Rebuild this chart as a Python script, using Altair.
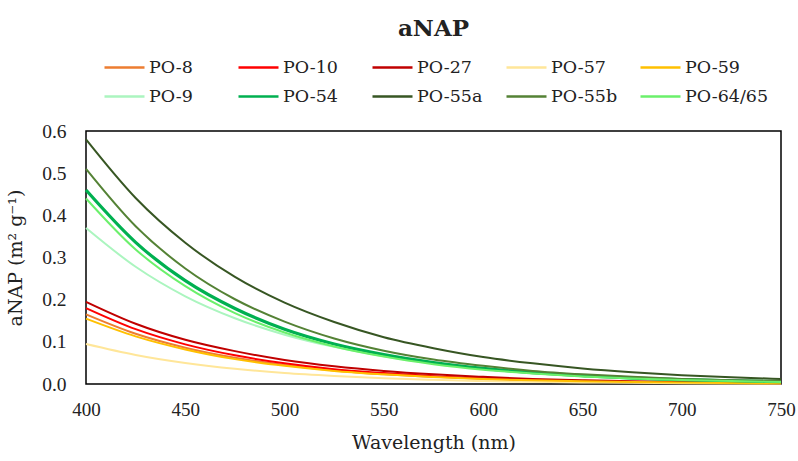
import altair as alt
import pandas as pd

wavelength = [400, 425, 450, 475, 500, 525, 550, 575, 600, 625, 650, 675, 700, 725, 750]

series_names = ["PO-8", "PO-10", "PO-27", "PO-57", "PO-59",
                "PO-9", "PO-54", "PO-55a", "PO-55b", "PO-64/65"]
series_colors = ["#ED7D31", "#FF0000", "#C00000", "#FFE699", "#FFC000",
                 "#ABF5BF", "#00B050", "#375623", "#548235", "#6BF06B"]

po_8 = [0.165, 0.119, 0.086, 0.062, 0.045, 0.032, 0.023, 0.017, 0.0123, 0.0089, 0.0064, 0.0046, 0.0033, 0.0024, 0.0017]
po_10 = [0.180, 0.130, 0.094, 0.068, 0.049, 0.035, 0.026, 0.0185, 0.0134, 0.0097, 0.0070, 0.0050, 0.0036, 0.0026, 0.0019]
po_27 = [0.195, 0.143, 0.105, 0.078, 0.057, 0.042, 0.031, 0.023, 0.017, 0.012, 0.009, 0.0066, 0.0049, 0.0036, 0.0026]
po_57 = [0.095, 0.069, 0.050, 0.036, 0.026, 0.019, 0.0135, 0.0098, 0.0071, 0.0051, 0.0037, 0.0027, 0.0019, 0.0014, 0.0010]
po_59 = [0.155, 0.113, 0.082, 0.059, 0.043, 0.031, 0.023, 0.0165, 0.012, 0.0087, 0.0063, 0.0046, 0.0033, 0.0024, 0.0018]
po_9 = [0.370, 0.278, 0.208, 0.156, 0.117, 0.088, 0.066, 0.049, 0.037, 0.028, 0.021, 0.016, 0.012, 0.0088, 0.0066]
po_54 = [0.460, 0.336, 0.245, 0.179, 0.130, 0.095, 0.070, 0.051, 0.037, 0.027, 0.020, 0.014, 0.0105, 0.0077, 0.0056]
po_55a = [0.580, 0.441, 0.335, 0.254, 0.193, 0.147, 0.111, 0.085, 0.064, 0.049, 0.037, 0.028, 0.021, 0.016, 0.012]
po_55b = [0.510, 0.374, 0.274, 0.201, 0.148, 0.108, 0.079, 0.058, 0.043, 0.031, 0.023, 0.017, 0.012, 0.009, 0.007]
po_64_65 = [0.440, 0.319, 0.232, 0.168, 0.122, 0.089, 0.065, 0.047, 0.034, 0.025, 0.018, 0.013, 0.0095, 0.0069, 0.0050]

all_values = [po_8, po_10, po_27, po_57, po_59, po_9, po_54, po_55a, po_55b, po_64_65]

x_ticks = [400, 450, 500, 550, 600, 650, 700, 750]
y_ticks = [0.0, 0.1, 0.2, 0.3, 0.4, 0.5, 0.6]

rows = []
for name, vals in zip(series_names, all_values):
    for w, v in zip(wavelength, vals):
        rows.append({"series": name, "wavelength": w, "value": v})
df = pd.DataFrame(rows)

text_font = "DejaVu Serif"
num_font = "Liberation Serif"

chart = alt.Chart(df).mark_line(interpolate="monotone").encode(
    x=alt.X("wavelength:Q",
            scale=alt.Scale(domain=[400, 750], nice=False, zero=False),
            axis=alt.Axis(title="Wavelength (nm)", values=x_ticks, ticks=False, domain=False,
                          grid=False, labelFlush=False, labelFont=num_font, labelFontSize=19,
                          labelColor="#222", labelPadding=16, titleFont=text_font,
                          titleFontSize=19, titleFontWeight="normal", titleColor="#222",
                          titlePadding=14)),
    y=alt.Y("value:Q",
            scale=alt.Scale(domain=[0, 0.6], nice=False),
            axis=alt.Axis(title="aNAP (m² g⁻¹)", values=y_ticks, format=".1f", ticks=False,
                          domain=False, grid=False, labelFlush=False, labelFont=num_font,
                          labelFontSize=19.5, labelColor="#222", labelPadding=20,
                          titleFont=text_font, titleFontSize=19, titleFontWeight="normal",
                          titleColor="#222", titlePadding=16)),
    color=alt.Color("series:N",
                    scale=alt.Scale(domain=series_names, range=series_colors),
                    legend=alt.Legend(title=None, orient="none", legendX=17, legendY=-75,
                                      direction="horizontal", columns=5, gridAlign="all",
                                      columnPadding=0, rowPadding=9, symbolType="M-1,0H3",
                                      symbolSize=400, symbolStrokeWidth=2.5, labelOffset=23,
                                      labelFont=text_font, labelFontSize=17.5,
                                      labelColor="#222", labelLimit=200, padding=0)),
    strokeWidth=alt.condition(alt.datum.series == "PO-54", alt.value(3.2), alt.value(2)),
    order=alt.Order("wavelength:Q"),
).properties(
    width=695,
    height=253,
    title=alt.TitleParams("aNAP", font=text_font, fontSize=23, fontWeight="bold",
                          color="#222", anchor="middle", offset=15),
    padding={"left": 86, "top": 131, "right": 17, "bottom": 77},
    autosize=alt.AutoSizeParams(type="none"),
).configure_view(
    stroke="black", strokeWidth=1.5
)

chart.save("out.html", embed_options={"renderer": "svg", "actions": False})
